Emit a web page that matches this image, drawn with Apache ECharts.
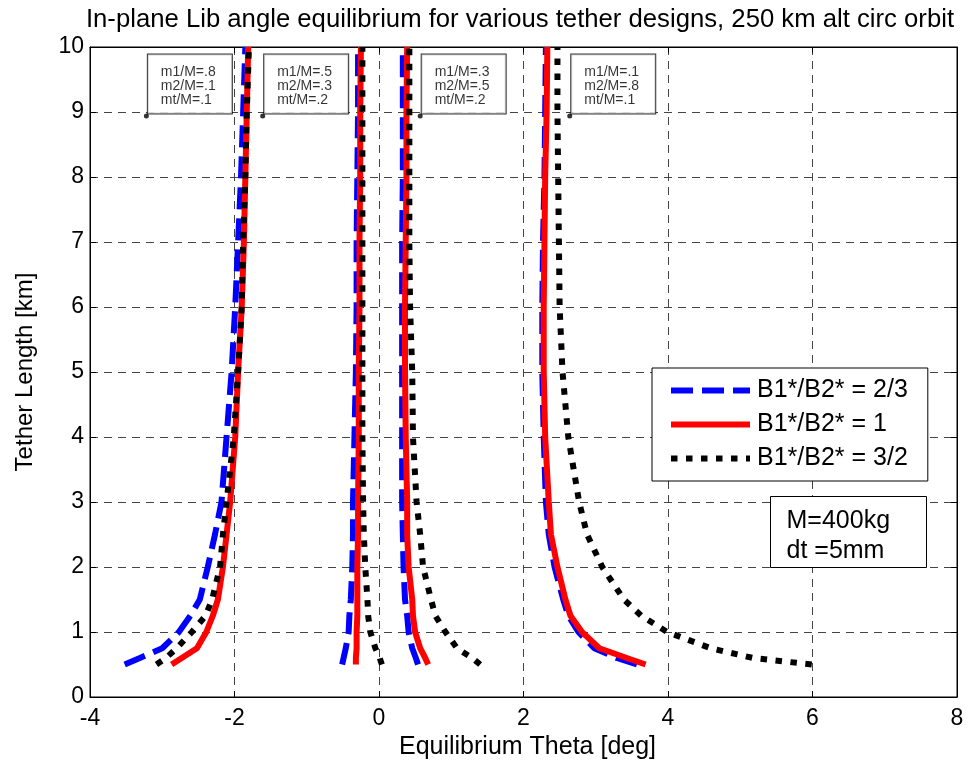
<!DOCTYPE html>
<html><head><meta charset="utf-8">
<script src="https://cdn.jsdelivr.net/npm/echarts@6/dist/echarts.min.js"></script>
<style>html,body{margin:0;padding:0;background:#fff}#c{width:968px;height:771px}</style>
</head><body><div id="c"></div>
<script>
// Tether length samples [km]
const tetherLength = [0.5, 0.6, 0.75, 1, 1.25, 1.5, 2, 2.5, 3, 4, 5, 6, 7, 8, 9, 10];

// Design 1: m1/M=.8, m2/M=.1, mt/M=.1
const d1_r23 = [-3.52, -3.31, -3.00, -2.77, -2.61, -2.48, -2.37, -2.27, -2.18, -2.11, -2.04, -1.99, -1.95, -1.91, -1.88, -1.85];
const d1_r1  = [-2.87, -2.73, -2.52, -2.39, -2.30, -2.23, -2.16, -2.11, -2.06, -1.99, -1.95, -1.90, -1.87, -1.85, -1.83, -1.81];
const d1_r32 = [-3.08, -2.95, -2.80, -2.59, -2.40, -2.31, -2.20, -2.16, -2.11, -2.01, -1.95, -1.90, -1.88, -1.85, -1.83, -1.80];
// Design 2: m1/M=.5, m2/M=.3, mt/M=.2
const d2_r23 = [-0.51, -0.49, -0.46, -0.42, -0.41, -0.39, -0.37, -0.36, -0.36, -0.34, -0.32, -0.31, -0.31, -0.30, -0.29, -0.29];
const d2_r1  = [-0.32, -0.32, -0.31, -0.31, -0.30, -0.30, -0.30, -0.29, -0.29, -0.28, -0.28, -0.27, -0.27, -0.26, -0.26, -0.25];
const d2_r32 = [0.04, 0.01, -0.05, -0.12, -0.15, -0.16, -0.19, -0.21, -0.22, -0.23, -0.23, -0.23, -0.23, -0.23, -0.23, -0.23];
// Design 3: m1/M=.3, m2/M=.5, mt/M=.2
const d3_r23 = [0.54, 0.51, 0.46, 0.41, 0.39, 0.36, 0.34, 0.33, 0.32, 0.32, 0.32, 0.32, 0.32, 0.33, 0.33, 0.33];
const d3_r1  = [0.68, 0.64, 0.57, 0.50, 0.47, 0.46, 0.41, 0.39, 0.39, 0.37, 0.36, 0.36, 0.37, 0.38, 0.38, 0.39];
const d3_r32 = [1.40, 1.29, 1.08, 0.92, 0.78, 0.72, 0.61, 0.57, 0.52, 0.47, 0.46, 0.43, 0.42, 0.42, 0.42, 0.42];
// Design 4: m1/M=.1, m2/M=.8, mt/M=.1
const d4_r23 = [3.57, 3.29, 2.98, 2.76, 2.62, 2.55, 2.43, 2.35, 2.31, 2.28, 2.26, 2.26, 2.27, 2.29, 2.30, 2.31];
const d4_r1  = [3.69, 3.43, 3.05, 2.81, 2.65, 2.58, 2.47, 2.38, 2.35, 2.30, 2.28, 2.28, 2.29, 2.30, 2.32, 2.33];
const d4_r32 = [5.99, 5.18, 4.59, 3.99, 3.63, 3.39, 3.09, 2.88, 2.77, 2.62, 2.54, 2.50, 2.49, 2.48, 2.47, 2.47];

const seriesNames = ['B1*/B2* = 2/3', 'B1*/B2* = 1', 'B1*/B2* = 3/2'];

// Design annotations (anchor points and texts)
const annotX = [-3.22, -1.61, 0.57, 2.64];
const annotY = [8.94, 8.94, 8.94, 8.94];
const annotText = [
  'm1/M=.8\nm2/M=.1\nmt/M=.1',
  'm1/M=.5\nm2/M=.3\nmt/M=.2',
  'm1/M=.3\nm2/M=.5\nmt/M=.2',
  'm1/M=.1\nm2/M=.8\nmt/M=.1'
];
const infoText = 'M=400kg\ndt =5mm';

const FONT = 'Liberation Sans, Arial, Helvetica, sans-serif';
const pairs = arr => arr.map((x, i) => [x, tetherLength[i]]);

const styles = [
  { color: '#0000ff', width: 6, type: [22, 9] },
  { color: '#ff0000', width: 6, type: 'solid' },
  { color: '#000000', width: 6, type: [6.5, 8.5] }
];
const groups = [
  [d1_r23, d1_r1, d1_r32],
  [d2_r23, d2_r1, d2_r32],
  [d3_r23, d3_r1, d3_r32],
  [d4_r23, d4_r1, d4_r32]
];

const series = [];
for (let s = 0; s < 3; s++) {
  groups.forEach(g => {
    series.push({
      type: 'line',
      name: seriesNames[s],
      data: pairs(g[s]),
      symbol: 'none',
      smooth: false,
      z: 2 + s,
      lineStyle: { color: styles[s].color, width: styles[s].width, type: styles[s].type, cap: 'butt' },
      itemStyle: { color: styles[s].color },
      emphasis: { disabled: true }
    });
  });
}
series.push({
  type: 'scatter',
  name: 'annot',
  data: annotX.map((x, i) => [x, annotY[i]]),
  symbol: 'circle',
  symbolSize: 5,
  z: 10,
  itemStyle: { color: '#000' },
  label: {
    show: true,
    position: [4, 0],
    align: 'left',
    verticalAlign: 'bottom',
    formatter: p => annotText[p.dataIndex],
    fontFamily: FONT,
    fontSize: 14,
    lineHeight: 14,
    color: '#000',
    backgroundColor: '#fff',
    borderColor: '#000',
    borderWidth: 1,
    padding: [11, 13, 6, 13],
    width: 58
  },
  emphasis: { disabled: true }
});

const chart = echarts.init(document.getElementById('c'), null, { renderer: 'canvas' });
chart.setOption({
  animation: false,
  backgroundColor: '#fff',
  textStyle: { fontFamily: FONT },
  title: {
    text: 'In-plane Lib angle equilibrium for various tether designs, 250 km alt circ orbit',
    left: 515, top: 2, textAlign: 'center',
    textStyle: { fontFamily: FONT, fontSize: 25.7, fontWeight: 'normal', color: '#000' }
  },
  grid: { left: 90, right: 11, top: 47, bottom: 74, show: true, borderColor: '#000', borderWidth: 1, backgroundColor: 'transparent' },
  legend: {
    data: seriesNames,
    orient: 'vertical',
    left: 652, top: 368,
    padding: [10, 20, 10, 16],
    itemGap: 9,
    itemWidth: 79,
    itemHeight: 26,
    backgroundColor: '#fff',
    borderColor: '#000',
    borderWidth: 1,
    selectedMode: false,
    itemStyle: { opacity: 0, borderWidth: 0 },
    lineStyle: { width: 6 },
    textStyle: { fontFamily: FONT, fontSize: 25, color: '#000', padding: [0, 0, 0, 2] }
  },
  xAxis: [{
    type: 'value', min: -4, max: 8, interval: 2,
    name: 'Equilibrium Theta [deg]', nameLocation: 'middle', nameGap: 34,
    nameTextStyle: { fontFamily: FONT, fontSize: 25, color: '#000', padding: [0, 0, 0, 8] },
    axisLine: { show: true, onZero: false, lineStyle: { color: '#000', width: 1 } },
    axisTick: { show: true, inside: true, length: 6, lineStyle: { color: '#000' } },
    axisLabel: { fontFamily: FONT, fontSize: 23, color: '#000', margin: 10 },
    splitLine: { show: true, lineStyle: { color: '#444', width: 1, type: [8, 6] } }
  }, {
    type: 'value', position: 'top', min: -4, max: 8, interval: 2,
    axisLine: { show: true, onZero: false, lineStyle: { color: '#000' } },
    axisTick: { show: true, inside: true, length: 6, lineStyle: { color: '#000' } },
    axisLabel: { show: false }, splitLine: { show: false }
  }],
  yAxis: [{
    type: 'value', min: 0, max: 10, interval: 1,
    name: 'Tether Length [km]', nameLocation: 'middle', nameGap: 53,
    nameTextStyle: { fontFamily: FONT, fontSize: 24, color: '#000' },
    axisLine: { show: true, onZero: false, lineStyle: { color: '#000', width: 1 } },
    axisTick: { show: true, inside: true, length: 6, lineStyle: { color: '#000' } },
    axisLabel: { fontFamily: FONT, fontSize: 23, color: '#000', margin: 6 },
    splitLine: { show: true, lineStyle: { color: '#444', width: 1, type: [8, 6] } }
  }, {
    type: 'value', position: 'right', min: 0, max: 10, interval: 1,
    axisLine: { show: true, onZero: false, lineStyle: { color: '#000' } },
    axisTick: { show: true, inside: true, length: 6, lineStyle: { color: '#000' } },
    axisLabel: { show: false }, splitLine: { show: false }
  }],
  graphic: [{
    type: 'group', left: 770, top: 496, z: 100,
    children: [
      { type: 'rect', z: 100, shape: { x: 0, y: 0, width: 156, height: 71 }, style: { fill: '#fff', stroke: '#000', lineWidth: 1 } },
      { type: 'text', z: 101, x: 16, y: 10, style: { text: infoText, font: '25px ' + FONT, lineHeight: 30, fill: '#000' } }
    ]
  }],
  series: series
});
</script>
</body></html>
